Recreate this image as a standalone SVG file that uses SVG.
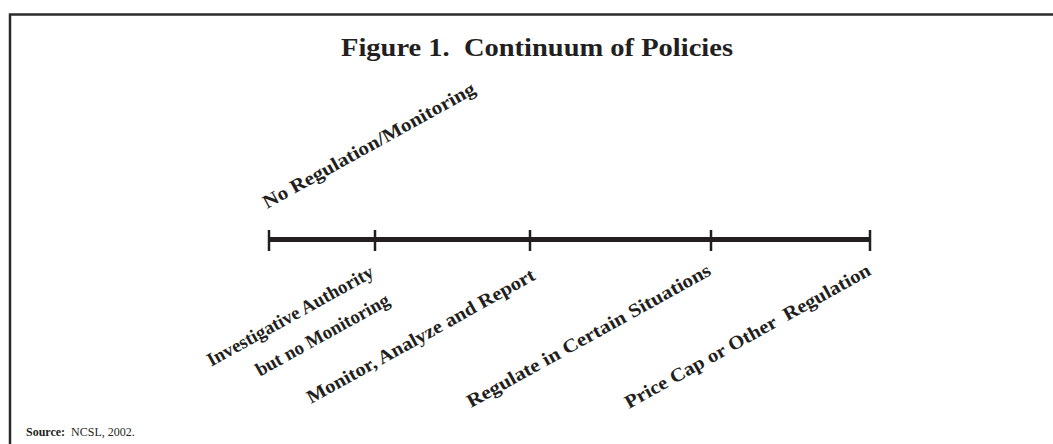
<svg xmlns="http://www.w3.org/2000/svg" width="1053" height="444" viewBox="0 0 1053 444">
  <style>
    .frame { fill: none; stroke: #2b2b2b; stroke-width: 2.5; }
    .axis { stroke: #231f20; stroke-width: 5; }
    .tick { stroke: #231f20; stroke-width: 2.5; }
    .title { font-family: "Liberation Serif", serif; font-weight: bold; font-size: 26px; fill: #231f20; }
    .lbl { font-family: "Liberation Serif", serif; font-weight: bold; font-size: 19px; fill: #231f20; }
    .src { font-family: "Liberation Serif", serif; font-size: 12px; fill: #231f20; }
  </style>

  <!-- frame: top and left rules -->
  <polyline class="frame" points="10,444 10,14.5 1053,14.5"/>

  <text class="title" x="341" y="56" textLength="392" lengthAdjust="spacingAndGlyphs" xml:space="preserve">Figure 1.  Continuum of Policies</text>

  <!-- policy scale -->
  <g id="connectors">
    <line class="axis" x1="269" y1="239.5" x2="870" y2="239.5"/>
    <line class="tick" x1="269" y1="230" x2="269" y2="251"/>
    <line class="tick" x1="375" y1="230" x2="375" y2="251"/>
    <line class="tick" x1="530" y1="230" x2="530" y2="251"/>
    <line class="tick" x1="711" y1="230" x2="711" y2="251"/>
    <line class="tick" x1="870" y1="230" x2="870" y2="251"/>
  </g>

  <g id="no-regulation">
    <text class="lbl" transform="translate(267,209) rotate(-29)" textLength="240" lengthAdjust="spacingAndGlyphs">No Regulation/Monitoring</text>
  </g>
  <g id="investigative">
    <text class="lbl" transform="translate(375,276) rotate(-29)" text-anchor="end">Investigative Authority</text>
    <text class="lbl" transform="translate(391,304) rotate(-29)" text-anchor="end">but no Monitoring</text>
  </g>
  <g id="monitor">
    <text class="lbl" transform="translate(311,404) rotate(-29)" textLength="258" lengthAdjust="spacingAndGlyphs">Monitor, Analyze and Report</text>
  </g>
  <g id="regulate-certain">
    <text class="lbl" transform="translate(471,408) rotate(-29)" textLength="276" lengthAdjust="spacingAndGlyphs">Regulate in Certain Situations</text>
  </g>
  <g id="price-cap">
    <text class="lbl" transform="translate(629,409) rotate(-29)" textLength="278" lengthAdjust="spacingAndGlyphs" xml:space="preserve">Price Cap or Other  Regulation</text>
  </g>

  <text class="src" x="26" y="436" xml:space="preserve"><tspan font-weight="bold">Source:</tspan>  NCSL, 2002.</text>
</svg>
